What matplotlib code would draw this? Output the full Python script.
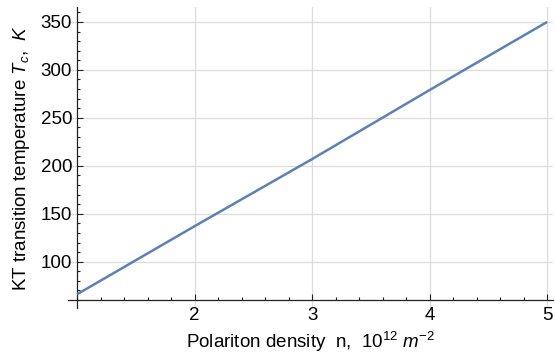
import numpy as np
import matplotlib
matplotlib.use("Agg")
import matplotlib.pyplot as plt
from matplotlib.ticker import FixedLocator, MultipleLocator

# Polariton density (10^12 m^-2) and KT transition temperature (K)
density = [1, 2, 3, 4, 5]
t_c = [66, 137, 207, 279, 350]

x_ticks = [2, 3, 4, 5]
y_ticks = [100, 150, 200, 250, 300, 350]

plt.rcParams['font.family'] = ['Liberation Sans', 'DejaVu Sans']
plt.rcParams['mathtext.fontset'] = 'custom'
plt.rcParams['mathtext.rm'] = 'Liberation Sans'
plt.rcParams['mathtext.it'] = 'Liberation Sans:italic'

fs = 13.5

fig = plt.figure(figsize=(5.55, 3.54), dpi=100)
ax = fig.add_axes([68 / 555, 46 / 354, 485 / 555, 301 / 354])

ax.plot(density, t_c, color='#5E81B5', lw=1.8, solid_capstyle='butt', zorder=3)

ax.set_xlim(0.923, 5.05)
ax.set_ylim(51.7, 365.6)

# axes cross at (1, 60) like a Mathematica plot
for s in ['top', 'right']:
    ax.spines[s].set_visible(False)
ax.spines['left'].set_position(('data', 1))
ax.spines['bottom'].set_position(('data', 60))
for s in ['left', 'bottom']:
    ax.spines[s].set_color('#222222')
    ax.spines[s].set_linewidth(0.9)

ax.xaxis.set_major_locator(FixedLocator(x_ticks))
ax.xaxis.set_minor_locator(MultipleLocator(0.2))
ax.yaxis.set_major_locator(FixedLocator(y_ticks))
ax.yaxis.set_minor_locator(MultipleLocator(10))

ax.tick_params(which='both', direction='in', color='#222222', width=0.8,
               labelsize=fs)
ax.tick_params(which='major', length=4)
ax.tick_params(which='minor', length=2.2)
ax.tick_params(axis='x', pad=5)
ax.tick_params(axis='y', pad=3.5)

ax.grid(True, which='major', color='#dcdcdc', lw=0.9, zorder=0)

ax.set_xlabel(r'Polariton density  n,  10$^{12}$ $m^{-2}$', fontsize=fs)
ax.set_ylabel(r'KT transition temperature $T_c$,  $K$', fontsize=fs)
ax.xaxis.set_label_coords(0.5, -0.072)
ax.yaxis.set_label_coords(-0.074, 0.5)

fig.savefig('out.png', dpi=100)
